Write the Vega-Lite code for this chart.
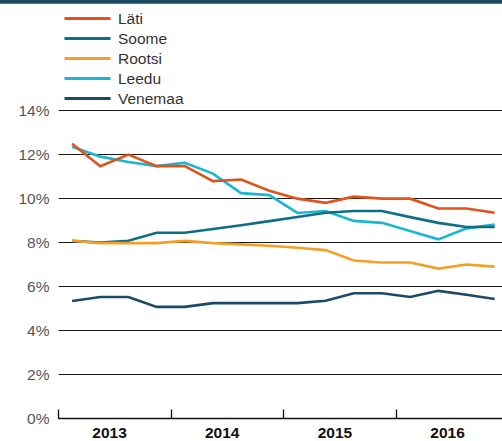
{
  "$schema": "https://vega.github.io/schema/vega-lite/v6.json",
  "width": 444,
  "height": 308,
  "autosize": {"type": "none"},
  "padding": {"left": 58, "top": 110, "right": 0, "bottom": 23},
  "background": "white",
  "config": {
    "view": {"stroke": null},
    "font": "Liberation Sans"
  },
  "datasets": {
    "series": [
      {"q": 0.5, "country": "Leedu", "value": 12.33},
      {"q": 1.5, "country": "Leedu", "value": 11.88},
      {"q": 2.5, "country": "Leedu", "value": 11.64},
      {"q": 3.5, "country": "Leedu", "value": 11.45},
      {"q": 4.5, "country": "Leedu", "value": 11.6},
      {"q": 5.5, "country": "Leedu", "value": 11.11},
      {"q": 6.5, "country": "Leedu", "value": 10.22},
      {"q": 7.5, "country": "Leedu", "value": 10.13},
      {"q": 8.5, "country": "Leedu", "value": 9.32},
      {"q": 9.5, "country": "Leedu", "value": 9.41},
      {"q": 10.5, "country": "Leedu", "value": 8.96},
      {"q": 11.5, "country": "Leedu", "value": 8.87},
      {"q": 12.5, "country": "Leedu", "value": 8.5},
      {"q": 13.5, "country": "Leedu", "value": 8.12},
      {"q": 14.5, "country": "Leedu", "value": 8.62},
      {"q": 15.5, "country": "Leedu", "value": 8.79},
      {"q": 0.5, "country": "Soome", "value": 8.05},
      {"q": 1.5, "country": "Soome", "value": 7.97},
      {"q": 2.5, "country": "Soome", "value": 8.06},
      {"q": 3.5, "country": "Soome", "value": 8.42},
      {"q": 4.5, "country": "Soome", "value": 8.42},
      {"q": 5.5, "country": "Soome", "value": 8.59},
      {"q": 6.5, "country": "Soome", "value": 8.76},
      {"q": 7.5, "country": "Soome", "value": 8.95},
      {"q": 8.5, "country": "Soome", "value": 9.14},
      {"q": 9.5, "country": "Soome", "value": 9.33},
      {"q": 10.5, "country": "Soome", "value": 9.41},
      {"q": 11.5, "country": "Soome", "value": 9.41},
      {"q": 12.5, "country": "Soome", "value": 9.13},
      {"q": 13.5, "country": "Soome", "value": 8.87},
      {"q": 14.5, "country": "Soome", "value": 8.68},
      {"q": 15.5, "country": "Soome", "value": 8.68},
      {"q": 0.5, "country": "Rootsi", "value": 8.06},
      {"q": 1.5, "country": "Rootsi", "value": 7.95},
      {"q": 2.5, "country": "Rootsi", "value": 7.95},
      {"q": 3.5, "country": "Rootsi", "value": 7.95},
      {"q": 4.5, "country": "Rootsi", "value": 8.05},
      {"q": 5.5, "country": "Rootsi", "value": 7.95},
      {"q": 6.5, "country": "Rootsi", "value": 7.89},
      {"q": 7.5, "country": "Rootsi", "value": 7.83},
      {"q": 8.5, "country": "Rootsi", "value": 7.74},
      {"q": 9.5, "country": "Rootsi", "value": 7.63},
      {"q": 10.5, "country": "Rootsi", "value": 7.16},
      {"q": 11.5, "country": "Rootsi", "value": 7.07},
      {"q": 12.5, "country": "Rootsi", "value": 7.07},
      {"q": 13.5, "country": "Rootsi", "value": 6.79},
      {"q": 14.5, "country": "Rootsi", "value": 6.98},
      {"q": 15.5, "country": "Rootsi", "value": 6.88},
      {"q": 0.5, "country": "Läti", "value": 12.47},
      {"q": 1.5, "country": "Läti", "value": 11.44},
      {"q": 2.5, "country": "Läti", "value": 11.97},
      {"q": 3.5, "country": "Läti", "value": 11.45},
      {"q": 4.5, "country": "Läti", "value": 11.45},
      {"q": 5.5, "country": "Läti", "value": 10.77},
      {"q": 6.5, "country": "Läti", "value": 10.84},
      {"q": 7.5, "country": "Läti", "value": 10.33},
      {"q": 8.5, "country": "Läti", "value": 9.97},
      {"q": 9.5, "country": "Läti", "value": 9.78},
      {"q": 10.5, "country": "Läti", "value": 10.06},
      {"q": 11.5, "country": "Läti", "value": 9.97},
      {"q": 12.5, "country": "Läti", "value": 9.97},
      {"q": 13.5, "country": "Läti", "value": 9.52},
      {"q": 14.5, "country": "Läti", "value": 9.52},
      {"q": 15.5, "country": "Läti", "value": 9.33},
      {"q": 0.5, "country": "Venemaa", "value": 5.32},
      {"q": 1.5, "country": "Venemaa", "value": 5.5},
      {"q": 2.5, "country": "Venemaa", "value": 5.5},
      {"q": 3.5, "country": "Venemaa", "value": 5.05},
      {"q": 4.5, "country": "Venemaa", "value": 5.05},
      {"q": 5.5, "country": "Venemaa", "value": 5.22},
      {"q": 6.5, "country": "Venemaa", "value": 5.22},
      {"q": 7.5, "country": "Venemaa", "value": 5.22},
      {"q": 8.5, "country": "Venemaa", "value": 5.22},
      {"q": 9.5, "country": "Venemaa", "value": 5.33},
      {"q": 10.5, "country": "Venemaa", "value": 5.67},
      {"q": 11.5, "country": "Venemaa", "value": 5.67},
      {"q": 12.5, "country": "Venemaa", "value": 5.5},
      {"q": 13.5, "country": "Venemaa", "value": 5.78},
      {"q": 14.5, "country": "Venemaa", "value": 5.6},
      {"q": 15.5, "country": "Venemaa", "value": 5.41}
    ]
  },
  "layer": [
    {
      "data": {"values": [{}]},
      "mark": {"type": "rect", "color": "#1c4a64", "clip": false},
      "encoding": {
        "x": {"datum": -3, "type": "quantitative", "scale": {"domain": [0, 15.76], "nice": false, "zero": false}},
        "x2": {"datum": 17},
        "y": {"datum": 18.83, "type": "quantitative", "scale": {"domain": [0, 14], "nice": false}},
        "y2": {"datum": 19.6}
      }
    },
    {
      "data": {"name": "series"},
      "mark": {"type": "line", "strokeWidth": 2.6, "clip": false},
      "encoding": {
        "x": {
          "field": "q",
          "type": "quantitative",
          "scale": {"domain": [0, 15.76], "nice": false, "zero": false},
          "axis": {
            "title": null,
            "values": [0, 4, 8, 12],
            "labelExpr": "2013 + datum.value / 4",
            "labelOffset": 51,
            "labelFont": "Liberation Sans",
            "labelFontSize": 15.5,
            "labelFontWeight": "bold",
            "labelColor": "#111",
            "labelPadding": 16,
            "labelFlush": false,
            "labelOverlap": false,
            "grid": false,
            "domainColor": "#111",
            "domainWidth": 1.3,
            "tickColor": "#111",
            "tickWidth": 1.3,
            "tickSize": -9
          }
        },
        "y": {
          "field": "value",
          "type": "quantitative",
          "scale": {"domain": [0, 14], "nice": false},
          "axis": {
            "title": null,
            "values": [0, 2, 4, 6, 8, 10, 12, 14],
            "labelExpr": "datum.value + '%'",
            "labelFont": "Liberation Sans",
            "labelFontSize": 15.5,
            "labelColor": "#555",
            "labelPadding": 9,
            "ticks": false,
            "domain": false,
            "grid": true,
            "gridColor": "#1a1a1a",
            "gridWidth": 1.2
          }
        },
        "color": {
          "field": "country",
          "type": "nominal",
          "scale": {
            "domain": ["Läti", "Soome", "Rootsi", "Leedu", "Venemaa"],
            "range": ["#e0531c", "#0d6e86", "#f59f25", "#17b8d1", "#1c4a66"]
          },
          "legend": {
            "title": null,
            "orient": "none",
            "legendX": 18,
            "legendY": -103,
            "symbolType": "M-2.3,0L2.3,0",
            "symbolSize": 400,
            "symbolStrokeWidth": 3,
            "labelFont": "Liberation Sans",
            "labelFontSize": 15.5,
            "labelColor": "#333",
            "labelOffset": 19,
            "rowPadding": 0,
            "padding": 0
          }
        }
      }
    }
  ]
}
